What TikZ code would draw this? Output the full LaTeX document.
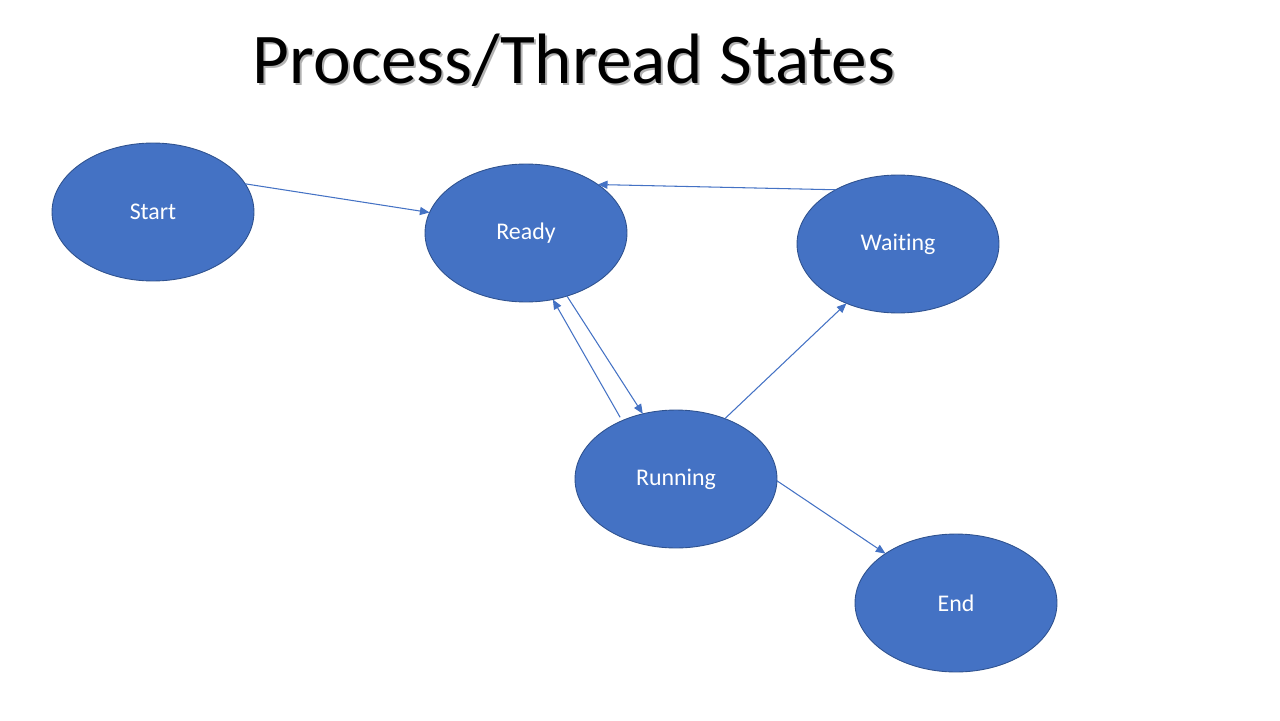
\documentclass[tikz,border=0pt]{standalone}
\usepackage{fontspec}
\setmainfont[Ligatures=NoCommon]{Carlito}
\usetikzlibrary{shapes.geometric,arrows.meta}
\definecolor{stfill}{HTML}{4472C4}
\definecolor{stedge}{HTML}{2F528F}
\begin{document}
\begin{tikzpicture}[x=0.02cm,y=-0.02cm,
  state/.style={ellipse,draw=stedge,line width=0.5pt,fill=stfill,text=white,
    minimum width=4.04cm,minimum height=2.76cm,inner sep=0pt,outer sep=0pt,
    font=\fontsize{13.6pt}{16pt}\selectfont},
  conn/.style={draw=stfill,line width=0.6pt,
    -{Triangle[length=5.5pt,width=4.6pt]}},
  ttl/.style={font=\fontsize{40.6pt}{48pt}\selectfont}]
\useasboundingbox (0,0) rectangle (1280,720);
\node[ttl,text=black!30] (titleshadow) at (576,62) {Process/Thread States};
\node[ttl,text=black] (title) at (574,60) {Process/Thread States};
\node[state] (start) at (153,212) {Start};
\node[state] (ready) at (526,233) {Ready};
\node[state] (waiting) at (898,244) {Waiting};
\node[state] (running) at (676,479) {Running};
\node[state] (end) at (956,603) {End};
\draw[conn] (start.17.9) -- (ready.168.4);
\draw[conn] (ready.-57.4) -- (running.117.2);
\draw[conn] ([shift={(-3,-3)}]running.132) -- (ready.-68.3);
\draw[conn] (waiting.139.3) -- (ready.34.2);
\draw[conn] (running.51.4) -- (waiting.-131.4);
\draw[conn] (running.-1.1) -- (end.145.6);
\end{tikzpicture}
\end{document}
